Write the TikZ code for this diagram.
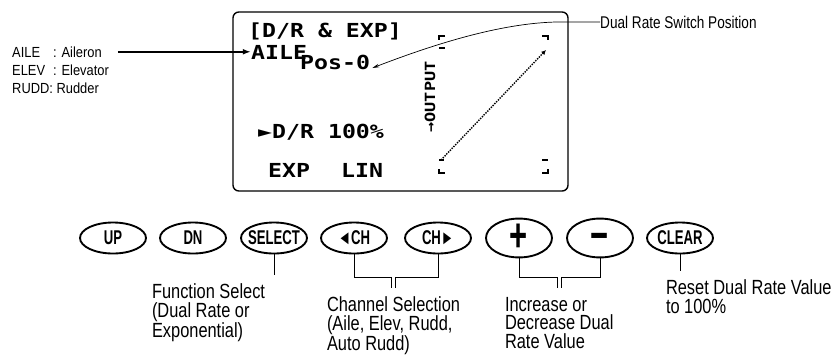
\documentclass[tikz,border=0pt]{standalone}
\usepackage{fontspec}
\usetikzlibrary{shapes.geometric,arrows.meta}
\newfontfamily\notefont[FakeStretch=0.8]{Liberation Sans}
\newfontfamily\legendfont[FakeStretch=0.88]{Liberation Sans}
\newfontfamily\keyfont[FakeStretch=0.66]{Liberation Sans}
\newfontfamily\lcdfont[FakeStretch=1.2]{DejaVu Sans Mono}
\newcommand\keylabel[1]{\makebox[0pt]{#1}}
\begin{document}
\begin{tikzpicture}[x=0.03cm,y=-0.03cm,
  lcd/.style={anchor=base west,inner sep=0,font=\lcdfont\bfseries\fontsize{16.5}{16.5}\selectfont},
  key/.style={ellipse,draw,line width=1.6pt,minimum width=1.98cm,minimum height=0.93cm,inner sep=0,font=\keyfont\bfseries\fontsize{17}{17}\selectfont},
  sign/.style={key,font=\keyfont\bfseries\fontsize{40}{40}\selectfont},
  note/.style={anchor=north west,inner sep=0,outer xsep=0,outer ysep=0.27cm,align=left,font=\notefont\fontsize{17.5}{15.8}\selectfont},
  legend/.style={anchor=base west,inner sep=0,font=\legendfont\fontsize{12.5}{12.5}\selectfont},
  stem/.style={line width=0.8pt},
  tick/.style={line width=1.6pt}]
\useasboundingbox (0,0) rectangle (831,354);
\draw[line width=1.2pt,rounded corners=5pt] (233,12) rectangle (568,191);
\node[lcd] (title) at (248,37) {[D/R \& EXP]};
\node[lcd] (lcdaile) at (251,59) {AILE};
\node[lcd] (pos) at (300,69) {Pos-0};
\node[lcd] (drate) at (258,138) {►D/R 100\%};
\node[lcd] (exp) at (268,177) {EXP};
\node[lcd] (lin) at (341,177) {LIN};
\node[rotate=90,inner sep=0,font=\lcdfont\bfseries\fontsize{12}{12}\selectfont] (outlbl) at (430,97) {→OUTPUT};
\draw[tick] (445,36) -- (439,36) -- (439,40);
\draw[tick] (439,48) -- (445,48);
\draw[tick] (542,36) -- (548,36) -- (548,40);
\draw[tick] (439,160) -- (444,160);
\draw[tick] (542,160) -- (548,160);
\draw[tick] (439,169) -- (439,173) -- (445,173);
\draw[tick] (548,169) -- (548,173) -- (542,173);
\draw[line width=1.2pt,densely dotted,-{Latex[length=4pt,width=4pt]}] (441,160) -- (546,50);
\node[legend] (aile) at (12,57) {\makebox[1.23cm][l]{AILE}: Aileron};
\node[legend] (elev) at (12,75) {\makebox[1.23cm][l]{ELEV}: Elevator};
\node[legend] (rudd) at (12,93) {RUDD: Rudder};
\draw[line width=1.5pt,-{Latex[length=7pt,width=5pt]}] ([xshift=0.48cm]aile.east) -- (aile.east -| lcdaile.west);
\node[anchor=base west,inner sep=0,font=\notefont\fontsize{14.5}{14.5}\selectfont] (dsw) at (600,28) {Dual Rate Switch Position};
\draw[line width=0.6pt,-{Stealth[length=6pt,width=3pt]}] (dsw.west) -- ++(-38,0) .. controls +(-50,0) and (450,38) .. ([xshift=0.06cm,yshift=0.03cm]pos.base east);
\node[key] (up) at (113,238) {\keylabel{UP}};
\node[key] (dn) at (193,238) {\keylabel{DN}};
\node[key] (select) at (274,238) {\keylabel{SELECT}};
\node[key] (chl) at (354,238) {\keylabel{◄CH}};
\node[key] (chr) at (438,238) {\keylabel{CH►}};
\node[sign] (plus) at (519,238) {\keylabel{+}};
\node[sign] (minus) at (600,238) {\keylabel{\vphantom{+}−}};
\node[key] (clear) at (680,238) {\keylabel{CLEAR}};
\node[note] (fsel) at (152,275) {Function Select\\(Dual Rate or\\Exponential)};
\node[note] (chsel) at (327,288) {Channel Selection\\(Aile, Elev, Rudd,\\Auto Rudd)};
\node[note] (incdec) at (505,288) {Increase or\\Decrease Dual\\Rate Value};
\node[note] (reset) at (666,271) {Reset Dual Rate Value\\to 100\%};
\draw[stem] (select.south) -- (select.south |- fsel.north);
\draw[stem] (chl.south) |- ([xshift=-0.06cm,yshift=0.33cm]chsel.north) -- ([xshift=-0.06cm]chsel.north);
\draw[stem] (chr.south) |- ([xshift=0.06cm,yshift=0.33cm]chsel.north) -- ([xshift=0.06cm]chsel.north);
\draw[stem] (plus.south) |- ([xshift=-0.06cm,yshift=0.33cm]incdec.north) -- ([xshift=-0.06cm]incdec.north);
\draw[stem] (minus.south) |- ([xshift=0.06cm,yshift=0.33cm]incdec.north) -- ([xshift=0.06cm]incdec.north);
\draw[stem] (clear.south) -- (clear.south |- reset.north);
\end{tikzpicture}
\end{document}
